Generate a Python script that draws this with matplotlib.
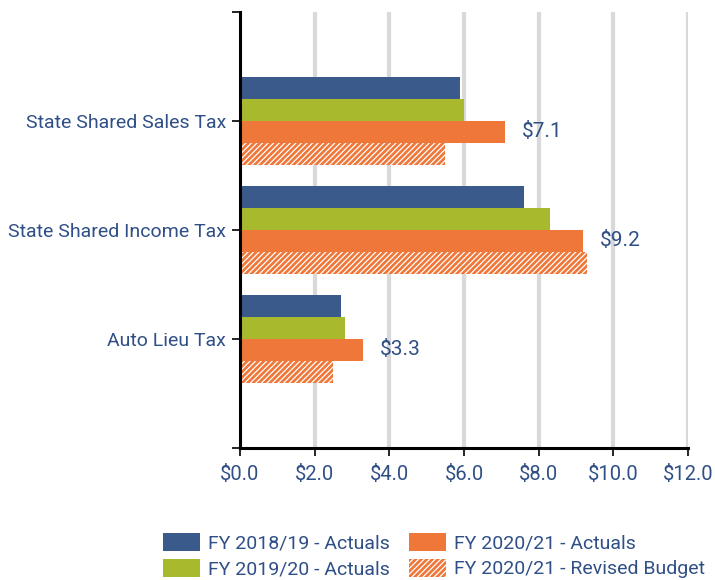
import numpy as np
import matplotlib
matplotlib.use("Agg")
import matplotlib.pyplot as plt

plt.rcParams['font.family'] = ['Roboto', 'DejaVu Sans']
plt.rcParams['hatch.linewidth'] = 0.9

categories = ["State Shared Sales Tax", "State Shared Income Tax", "Auto Lieu Tax"]
series_names = ["FY 2018/19 - Actuals", "FY 2019/20 - Actuals",
                "FY 2020/21 - Actuals", "FY 2020/21 - Revised Budget"]
fy1819 = [5.9, 7.6, 2.7]
fy1920 = [6.0, 8.3, 2.8]
fy2021 = [7.1, 9.2, 3.3]
fy2021_budget = [5.5, 9.3, 2.5]
xticks = [0, 2, 4, 6, 8, 10, 12]

blue = "#3A5A8C"
green = "#A9B92E"
orange = "#EE7739"
text_color = "#2F4F86"

fig = plt.figure(figsize=(7.15, 5.8), dpi=100)
ax = fig.add_axes([240 / 715, 1 - 448 / 580, 448 / 715, 436 / 580])

pos = np.arange(1, len(categories) + 1)
h = 0.2
b1 = ax.barh(pos - 1.5 * h, fy1819, height=h, color=blue, label=series_names[0], zorder=3)
b2 = ax.barh(pos - 0.5 * h, fy1920, height=h, color=green, label=series_names[1], zorder=3)
b3 = ax.barh(pos + 0.5 * h, fy2021, height=h, color=orange, label=series_names[2], zorder=3)
b4 = ax.barh(pos + 1.5 * h, fy2021_budget, height=h, color=orange, edgecolor="white",
             hatch="//////", linewidth=0, label=series_names[3], zorder=3)

for y, v in zip(pos, fy2021):
    ax.text(v + 0.45, y + 0.5 * h, f"${v:.1f}", va="center", ha="left",
            fontsize=15, color=text_color)

ax.set_ylim(4, 0)
ax.set_yticks([0, 1, 2, 3, 4])
ax.set_yticklabels(["", *categories, ""])
ax.set_xlim(0, 12)
ax.set_xticks(xticks)
ax.set_xticklabels([f"${t:.1f}" for t in xticks])
ax.tick_params(axis="both", labelsize=14, labelcolor=text_color, length=6, width=1.2)
ax.tick_params(axis="x", pad=6, labelsize=14.5)
ax.tick_params(axis="y", pad=4)

ax.grid(axis="x", color="#D9D9D9", linewidth=3, zorder=0)
for s in ["top", "right"]:
    ax.spines[s].set_visible(False)
ax.spines["left"].set_linewidth(2.2)
ax.spines["bottom"].set_linewidth(2.2)
ax.spines["left"].set_zorder(4)

fig.legend(handles=[b1, b2, b3, b4], loc="lower center", ncol=2,
           bbox_to_anchor=(0.607, -0.027), frameon=False, fontsize=14,
           labelcolor=text_color, handlelength=1.9, handleheight=1.05,
           columnspacing=1.0, labelspacing=0.3, handletextpad=0.4)

fig.savefig("out.png", dpi=100)
